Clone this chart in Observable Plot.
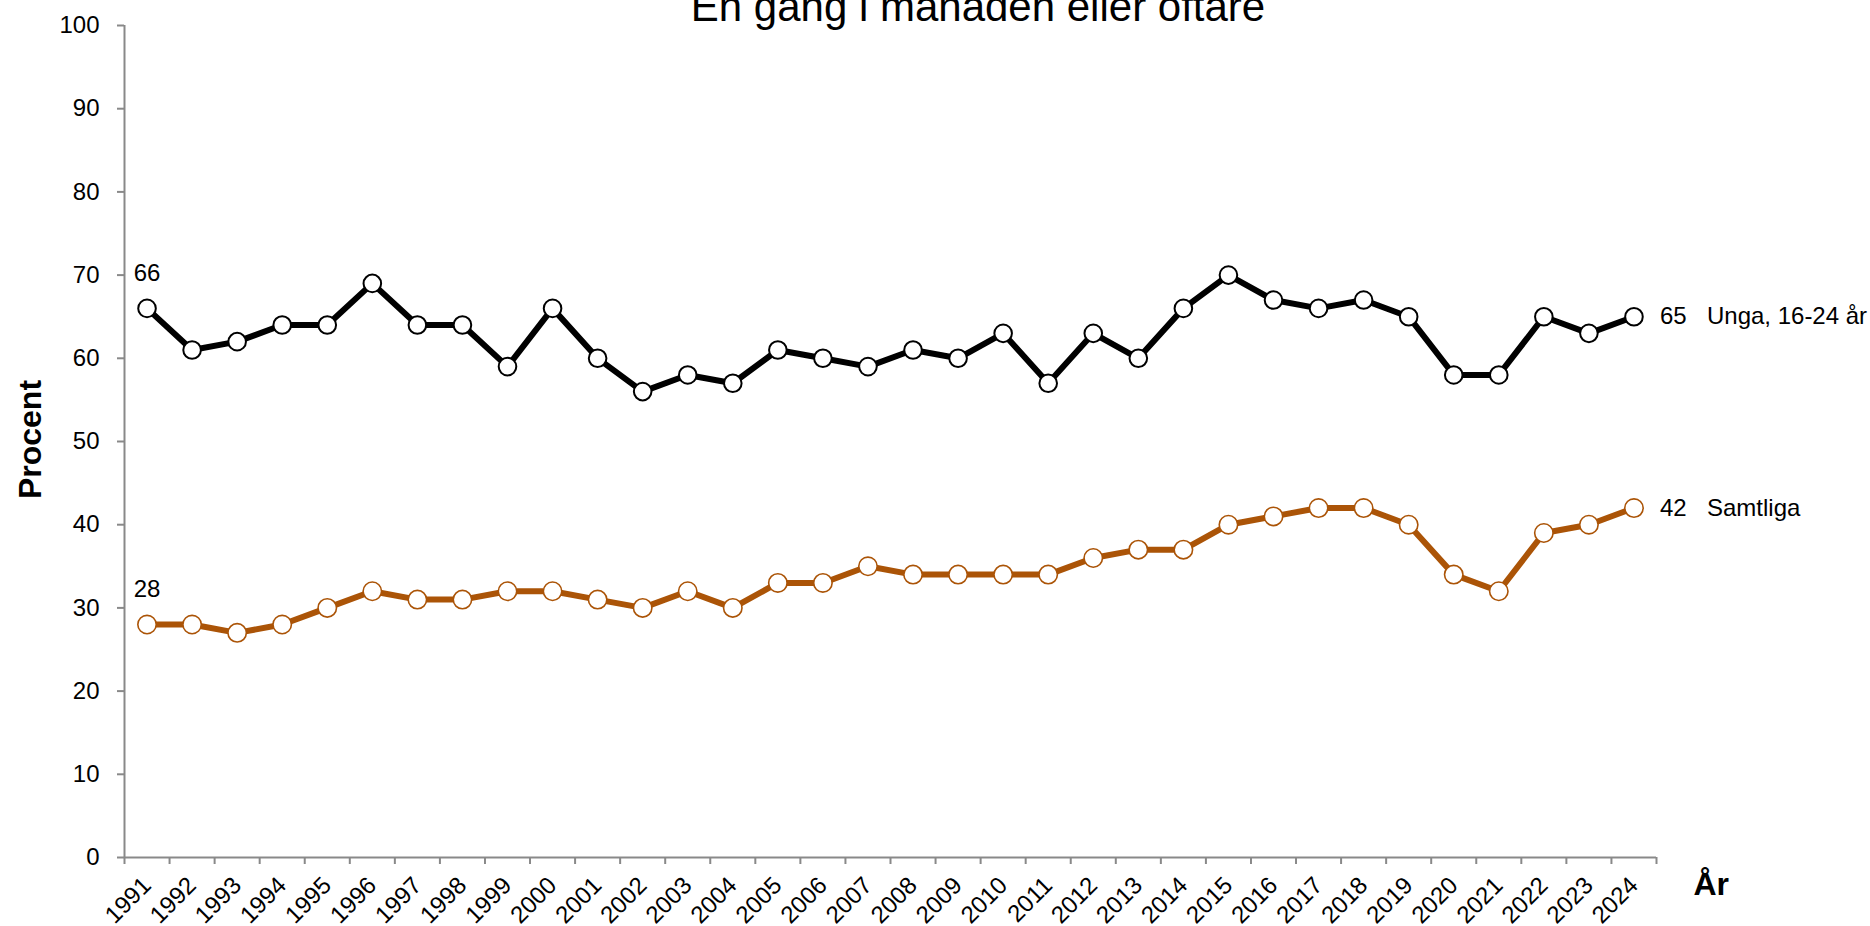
<!DOCTYPE html>
<html>
<head>
<meta charset="utf-8">
<script src="https://cdn.jsdelivr.net/npm/d3@7"></script>
<script src="https://cdn.jsdelivr.net/npm/@observablehq/plot@0.6"></script>
<style>
  html, body { margin: 0; padding: 0; background: #fff; overflow: hidden; }
  #wrap { position: relative; width: 1870px; height: 926px; font-family: "Liberation Sans", Arial, sans-serif; }
  #title { position: absolute; left: 978px; top: -14px; transform: translateX(-50%); white-space: nowrap;
           font-size: 42px; line-height: 42px; color: #000; z-index: 2; }
  #chart { position: absolute; left: 0; top: 0; }
</style>
</head>
<body>
<div id="wrap">
  <div id="title">En gång i månaden eller oftare</div>
  <div id="chart"></div>
</div>
<script>
const years = [1991,1992,1993,1994,1995,1996,1997,1998,1999,2000,2001,2002,2003,2004,2005,2006,2007,2008,2009,2010,2011,2012,2013,2014,2015,2016,2017,2018,2019,2020,2021,2022,2023,2024];
const unga = [66,61,62,64,64,69,64,64,59,66,60,56,58,57,61,60,59,61,60,63,57,63,60,66,70,67,66,67,65,58,58,65,63,65];
const samtliga = [28,28,27,28,30,32,31,31,32,32,31,30,32,30,33,33,35,34,34,34,34,36,37,37,40,41,42,42,40,34,32,39,40,42];
const seriesNames = ["Unga, 16-24 år", "Samtliga"];
const seriesColors = ["#000000", "#ab5407"];
const yTicks = [0,10,20,30,40,50,60,70,80,90,100];
const yLabel = "Procent";
const xLabel = "År";

const rows = [];
years.forEach((yr, i) => {
  rows.push({year: yr, value: unga[i], series: seriesNames[0]});
  rows.push({year: yr, value: samtliga[i], series: seriesNames[1]});
});
const ungaRows = rows.filter(d => d.series === seriesNames[0]);
const samtRows = rows.filter(d => d.series === seriesNames[1]);
const bounds = years.map(y => y - 0.5).concat([years[years.length - 1] + 0.5]);
const firstRows = [ungaRows[0], samtRows[0]];
const lastRows = [ungaRows[ungaRows.length - 1], samtRows[samtRows.length - 1]];

const axisGray = "#898989";
const font = "Liberation Sans, Arial, sans-serif";

const plot = Plot.plot({
  width: 1870,
  height: 926,
  marginLeft: 124,
  marginRight: 214,
  marginTop: 25,
  marginBottom: 69,
  style: {fontFamily: font, fontSize: "24px", background: "transparent", overflow: "visible"},
  x: {type: "linear", domain: [bounds[0], bounds[bounds.length - 1]]},
  y: {domain: [0, 100]},
  marks: [
    Plot.ruleX([bounds[0]], {stroke: axisGray, strokeWidth: 2}),
    Plot.ruleY([0], {stroke: axisGray, strokeWidth: 2}),
    Plot.axisY({ticks: yTicks, tickSize: 7, tickPadding: 18, stroke: axisGray, strokeWidth: 2, fill: "#000", fontSize: 24, label: null, tickFormat: d => String(d)}),
    Plot.axisX({ticks: bounds, tickSize: 7, stroke: axisGray, strokeWidth: 2, tickFormat: () => "", label: null}),
    Plot.axisX({ticks: years, tickSize: 0, tickPadding: 24, tickRotate: -45, fill: "#000", fontSize: 24, label: null, tickFormat: d => String(d)}),
    Plot.line(samtRows, {x: "year", y: "value", stroke: seriesColors[1], strokeWidth: 6}),
    Plot.line(ungaRows, {x: "year", y: "value", stroke: seriesColors[0], strokeWidth: 6}),
    Plot.dot(samtRows, {x: "year", y: "value", r: 9.2, fill: "#fff", stroke: seriesColors[1], strokeWidth: 1.6}),
    Plot.dot(ungaRows, {x: "year", y: "value", r: 8.8, fill: "#fff", stroke: seriesColors[0], strokeWidth: 2}),
    Plot.text(firstRows, {x: "year", y: "value", text: d => String(d.value), dy: -35, fontSize: 24, fill: "#000"}),
    Plot.text(lastRows, {x: "year", y: "value", text: d => String(d.value), dx: 26, textAnchor: "start", fontSize: 24, fill: "#000"}),
    Plot.text(lastRows, {x: "year", y: "value", text: "series", dx: 73, textAnchor: "start", fontSize: 24, fill: "#000"}),
    Plot.text([yLabel], {frameAnchor: "left", textAnchor: "middle", dx: -94, dy: -2, rotate: -90, fontSize: 32, fontWeight: "bold", fill: "#000"}),
    Plot.text([xLabel], {frameAnchor: "bottom-right", dx: 37, dy: 37, textAnchor: "start", fontSize: 32, fontWeight: "bold", fill: "#000"})
  ]
});
document.getElementById("chart").appendChild(plot);
</script>
</body>
</html>
